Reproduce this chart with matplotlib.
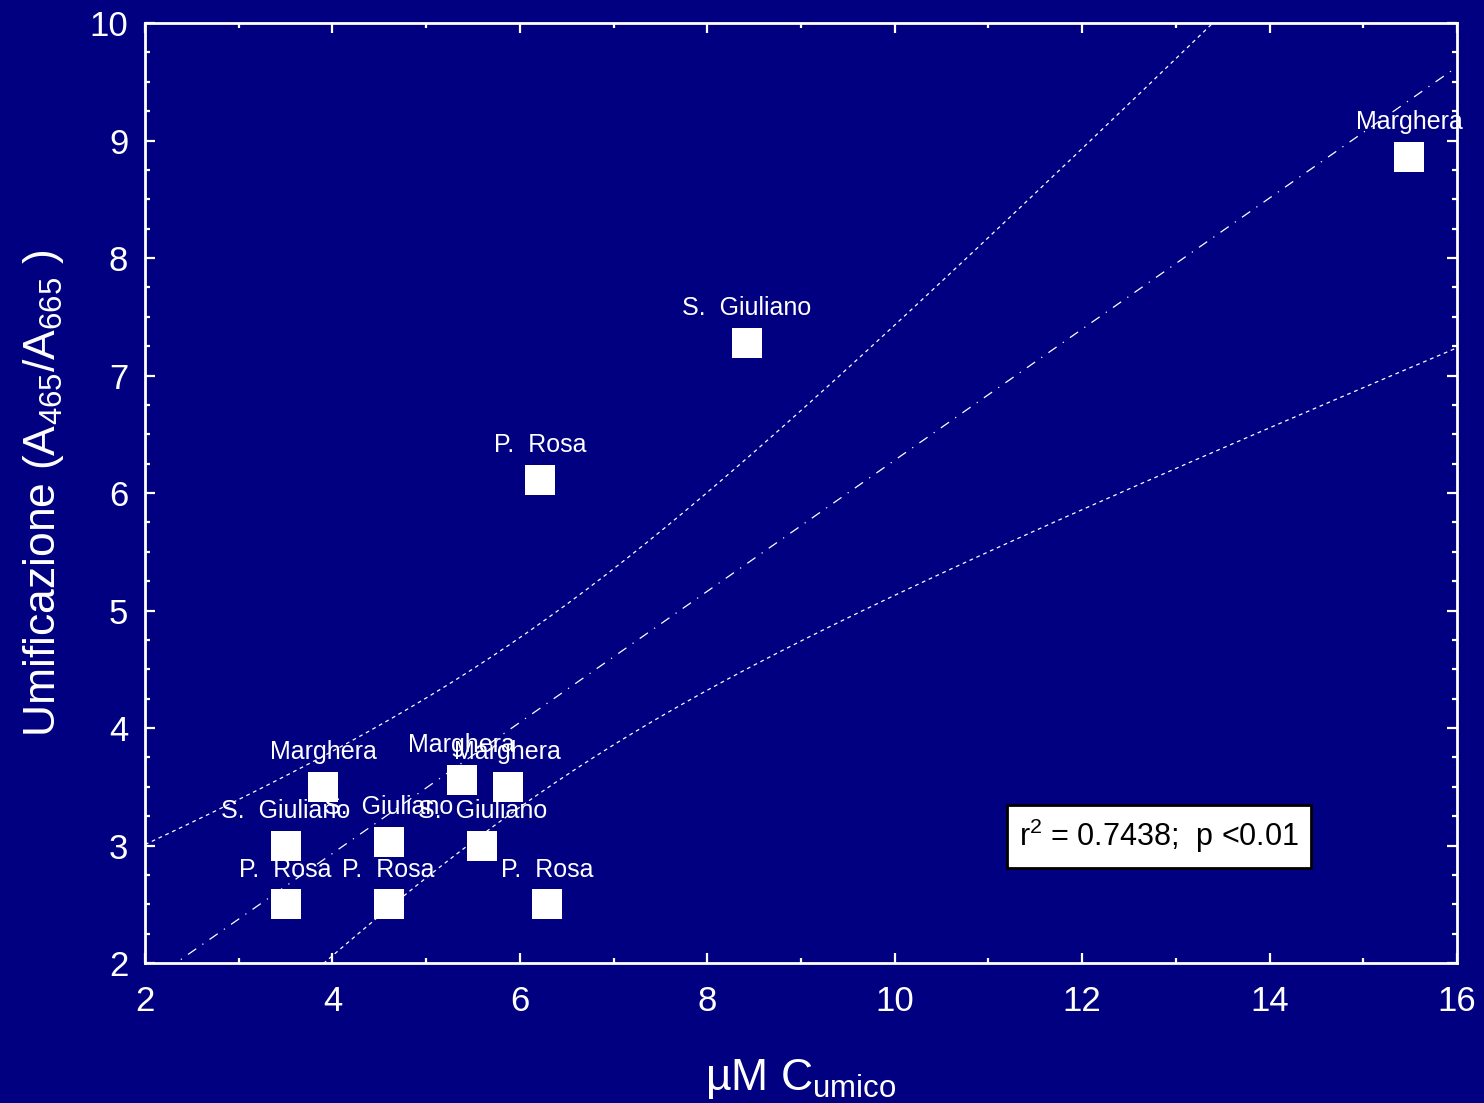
import numpy as np
import matplotlib.pyplot as plt
from matplotlib.ticker import MultipleLocator

plt.rcParams['font.family'] = ['Liberation Sans', 'DejaVu Sans']
plt.rcParams['mathtext.default'] = 'regular'

navy = '#000080'

# humic carbon vs humification index, three sites
x_c = [3.5, 3.5, 3.9, 4.6, 4.6, 5.38, 5.87, 5.6, 6.29, 6.22, 8.42, 15.49]
y_um = [3.0, 2.5, 3.5, 3.03, 2.5, 3.56, 3.5, 3.0, 2.5, 6.11, 7.28, 8.86]
sites = ['S. Giuliano', 'P. Rosa', 'Marghera', 'S. Giuliano', 'P. Rosa',
         'Marghera', 'Marghera', 'S. Giuliano', 'P. Rosa', 'P. Rosa',
         'S. Giuliano', 'Marghera']
stat_text = 'r$^2$ = 0.7438;  p <0.01'

x = np.array(x_c)
y = np.array(y_um)
n = len(x)
b, a = np.polyfit(x, y, 1)
resid = y - (a + b * x)
s = np.sqrt(np.sum(resid ** 2) / (n - 2))
t95 = 2.228  # t(0.975, df=10)
xs = np.linspace(2, 16, 200)
fit = a + b * xs
half = t95 * s * np.sqrt(1 / n + (xs - x.mean()) ** 2 / np.sum((x - x.mean()) ** 2))

fig = plt.figure(figsize=(14.84, 11.03), dpi=100, facecolor=navy)
ax = fig.add_axes([0.0977, 0.1269, 0.8841, 0.8522], facecolor=navy)

ax.plot(xs, fit, color='white', lw=0.9, ls=(0, (8, 6, 1, 6)))
ax.plot(xs, fit + half, color='white', lw=0.9, ls=(0, (3, 3)))
ax.plot(xs, fit - half, color='white', lw=0.9, ls=(0, (3, 3)))

ax.scatter(x, y, marker='s', s=30 ** 2 * 0.52, color='white', zorder=3, linewidths=0)
for xi, yi, name in zip(x, y, sites):
    ax.annotate(name.replace('. ', '.  '), (xi, yi), xytext=(0, 25), textcoords='offset points',
                ha='center', va='center', color='white', fontsize=18)

ax.text(12.82, 3.08, stat_text, ha='center', va='center', fontsize=22, color='black',
        bbox=dict(boxstyle='square,pad=0.4', fc='white', ec='black', lw=2))

ax.set_xlim(2, 16)
ax.set_ylim(2, 10)
ax.xaxis.set_major_locator(MultipleLocator(2))
ax.xaxis.set_minor_locator(MultipleLocator(1))
ax.yaxis.set_major_locator(MultipleLocator(1))
ax.yaxis.set_minor_locator(MultipleLocator(0.25))
ax.tick_params(which='both', direction='in', colors='white', top=True, right=True,
               labelsize=25, width=1.6)
ax.tick_params(which='major', length=7)
ax.tick_params(which='minor', length=3.5)
ax.tick_params(axis='x', pad=16)
ax.tick_params(axis='y', pad=12)
for sp in ax.spines.values():
    sp.set_color('white')
    sp.set_linewidth(2)

ax.set_xlabel('µM C$_{umico}$', color='white', fontsize=32, labelpad=28)
ax.set_ylabel('Umificazione (A$_{465}$/A$_{665}$ )', color='white', fontsize=32, labelpad=17)

fig.savefig('out.png', dpi=100, facecolor=navy)
